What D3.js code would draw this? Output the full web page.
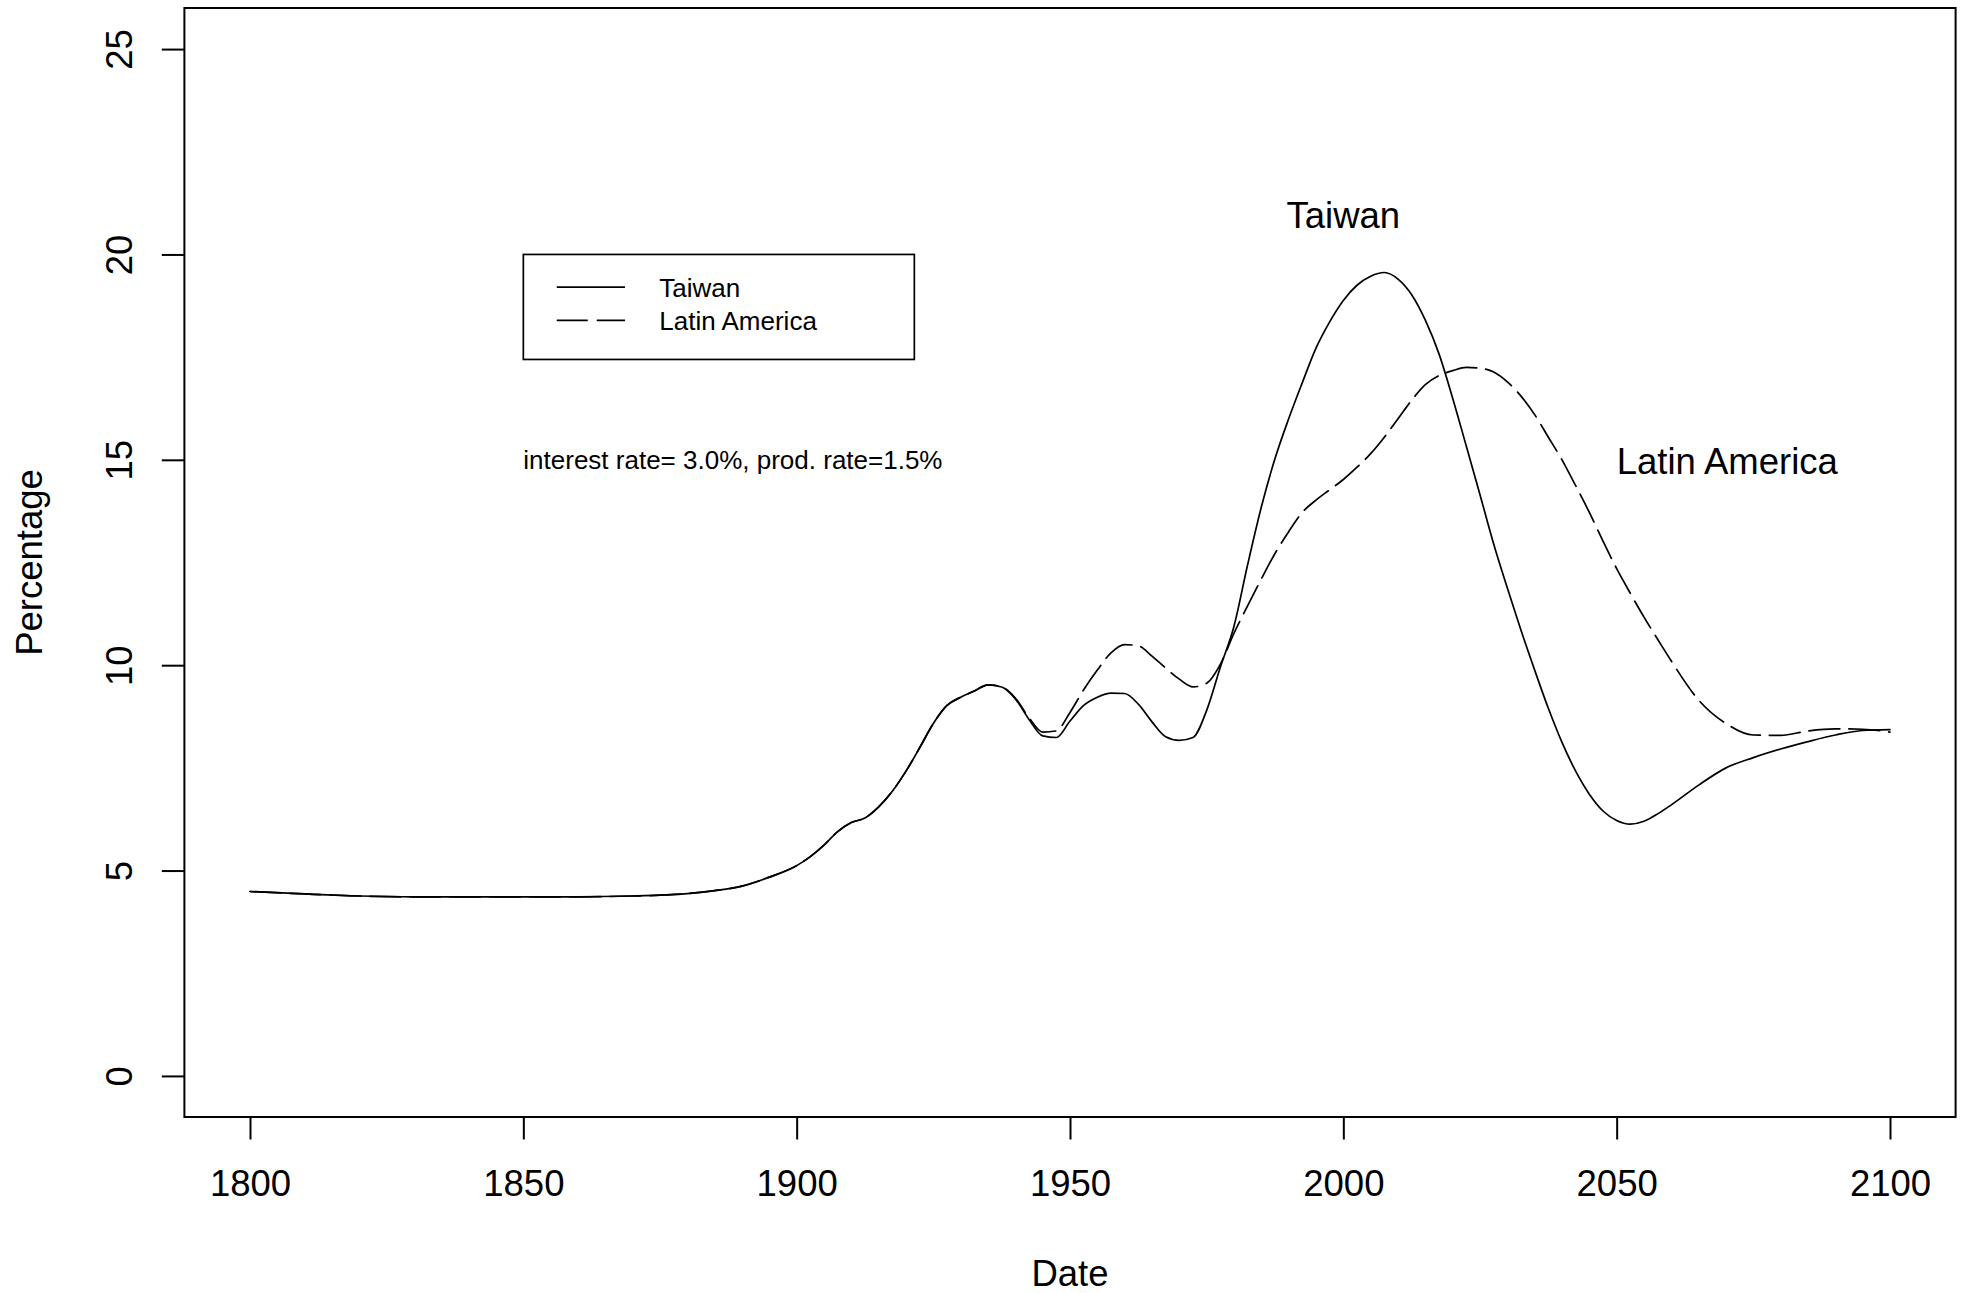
<!DOCTYPE html>
<html>
<head>
<meta charset="utf-8">
<script src="https://cdn.jsdelivr.net/npm/d3@7"></script>
<style>
  html, body { margin: 0; padding: 0; background: #fff; }
  svg { display: block; }
  text { font-family: "Liberation Sans", Arial, Helvetica, sans-serif; fill: #000; }
</style>
</head>
<body>
<svg id="chart" width="1967" height="1293"></svg>
<script>
// Years at which both series are sampled
const years = [
  1800, 1810, 1820, 1830, 1840, 1850, 1860, 1870, 1875, 1880, 1885, 1890, 1895,
  1900, 1902.5, 1905, 1907.5, 1910, 1912.5, 1915, 1917.5, 1920, 1922.5, 1925, 1927.5,
  1930, 1932.5, 1935, 1937.5, 1940, 1942.5, 1945, 1947.5, 1950, 1952.5, 1955, 1957.5,
  1960, 1962.5, 1965, 1967.5, 1970, 1972.5, 1975, 1977.5, 1980, 1982.5, 1985, 1987.5,
  1990, 1992.5, 1995, 1997.5, 2000, 2002.5, 2005, 2007.5, 2010, 2012.5, 2015, 2017.5,
  2020, 2022.5, 2025, 2027.5, 2030, 2032.5, 2035, 2037.5, 2040, 2042.5, 2045, 2047.5,
  2050, 2052.5, 2055, 2057.5, 2060,
  2065, 2070, 2075, 2080, 2085, 2090, 2095, 2100
];

// Percentage, Taiwan
const taiwan = [
  4.49, 4.43, 4.38, 4.36, 4.36, 4.36, 4.36, 4.38, 4.40, 4.44, 4.51, 4.62, 4.84,
  5.12, 5.34, 5.62, 5.95, 6.17, 6.28, 6.55, 6.93, 7.42, 7.99, 8.58, 9.02,
  9.22, 9.37, 9.52, 9.47, 9.18, 8.68, 8.28, 8.24, 8.64, 9.02, 9.22, 9.32,
  9.31, 9.05, 8.62, 8.26, 8.17, 8.24, 8.90, 9.95, 10.95, 12.45, 13.85, 15.03,
  16.00, 16.88, 17.72, 18.36, 18.88, 19.25, 19.47, 19.56, 19.40, 19.02, 18.40, 17.58,
  16.50, 15.33, 14.15, 12.95, 11.88, 10.85, 9.88, 8.95, 8.12, 7.42, 6.86, 6.45,
  6.22, 6.13, 6.20, 6.38, 6.60,
  7.08, 7.50, 7.75, 7.96, 8.14, 8.30, 8.41, 8.43
];

// Percentage, Latin America
const latinAmerica = [
  4.49, 4.43, 4.38, 4.36, 4.36, 4.36, 4.36, 4.38, 4.40, 4.44, 4.51, 4.62, 4.84,
  5.12, 5.34, 5.62, 5.95, 6.17, 6.28, 6.55, 6.93, 7.42, 7.99, 8.58, 9.02,
  9.22, 9.37, 9.52, 9.47, 9.20, 8.72, 8.37, 8.40, 8.85, 9.40, 9.88, 10.30,
  10.50, 10.47, 10.22, 9.93, 9.66, 9.47, 9.56, 10.02, 10.78, 11.45, 12.10, 12.72,
  13.25, 13.72, 14.02, 14.27, 14.52, 14.82, 15.15, 15.55, 16.00, 16.45, 16.83, 17.05,
  17.17, 17.25, 17.23, 17.14, 16.90, 16.55, 16.10, 15.55, 15.00, 14.37, 13.72, 13.02,
  12.35, 11.75, 11.17, 10.63, 10.10,
  9.15, 8.58, 8.30, 8.29, 8.40, 8.45, 8.44, 8.37
];

const xTicks = [1800, 1850, 1900, 1950, 2000, 2050, 2100];
const yTicks = [0, 5, 10, 15, 20, 25];
const seriesNames = ["Taiwan", "Latin America"];
const noteText = "interest rate= 3.0%, prod. rate=1.5%";
const xTitle = "Date";
const yTitle = "Percentage";

// ---- layout ----
const plot = { left: 184.4, right: 1955.6, top: 8, bottom: 1117 };
const bigFont = 36.5, smallFont = 26;

const x = d3.scaleLinear().domain([1788, 2112]).range([plot.left, plot.right]);
const y = d3.scaleLinear().domain([-1, 26]).range([plot.bottom, plot.top]);

const svg = d3.select("#chart");

// frame around the plotting region
svg.append("rect")
  .attr("x", plot.left).attr("y", plot.top)
  .attr("width", plot.right - plot.left).attr("height", plot.bottom - plot.top)
  .attr("fill", "none").attr("stroke", "#000").attr("stroke-width", 2);

// x axis
const xAxis = svg.append("g")
  .attr("transform", `translate(0,${plot.bottom})`)
  .call(d3.axisBottom(x).tickValues(xTicks).tickFormat(d3.format("d"))
    .tickSize(22.5).tickPadding(31));
xAxis.select(".domain").remove();
xAxis.selectAll(".tick line").attr("stroke", "#000").attr("stroke-width", 2);
xAxis.selectAll(".tick text")
  .style("font-size", bigFont + "px")
  .style("font-family", '"Liberation Sans", Arial, sans-serif')
  .attr("fill", "#000");

// y axis, labels rotated as in base graphics
const yAxis = svg.append("g")
  .attr("transform", `translate(${plot.left},0)`)
  .call(d3.axisLeft(y).tickValues(yTicks).tickFormat(d3.format("d")).tickSize(22.6));
yAxis.select(".domain").remove();
yAxis.selectAll(".tick line").attr("stroke", "#000").attr("stroke-width", 2);
yAxis.selectAll(".tick text")
  .attr("x", null).attr("dy", null).attr("y", null)
  .attr("text-anchor", "middle")
  .attr("transform", `translate(${131.7 - plot.left},0) rotate(-90)`)
  .style("font-size", bigFont + "px")
  .style("font-family", '"Liberation Sans", Arial, sans-serif')
  .attr("fill", "#000");

// axis titles
svg.append("text")
  .attr("x", (plot.left + plot.right) / 2).attr("y", 1286)
  .attr("text-anchor", "middle")
  .style("font-size", bigFont + "px")
  .text(xTitle);

svg.append("text")
  .attr("transform", `translate(42,${(plot.top + plot.bottom) / 2}) rotate(-90)`)
  .attr("text-anchor", "middle")
  .style("font-size", bigFont + "px")
  .text(yTitle);

// series lines
const series = [
  { name: seriesNames[0], values: taiwan, dash: null },
  { name: seriesNames[1], values: latinAmerica, dash: "31,9" }
];

const line = d3.line()
  .x(d => x(d[0]))
  .y(d => y(d[1]))
  .curve(d3.curveMonotoneX);

series.forEach(s => {
  svg.append("path")
    .datum(years.map((yr, i) => [yr, s.values[i]]))
    .attr("d", line)
    .attr("fill", "none")
    .attr("stroke", "#000")
    .attr("stroke-width", 1.7)
    .attr("stroke-linejoin", "round")
    .attr("stroke-linecap", "round")
    .attr("stroke-dasharray", s.dash);
});

// legend box anchored at (1850, 20)
const lg = svg.append("g").attr("transform", `translate(${x(1850)},${y(20)})`);
lg.append("rect")
  .attr("x", 0).attr("y", 0).attr("width", 391).attr("height", 105)
  .attr("fill", "#fff").attr("stroke", "#000").attr("stroke-width", 1.7);
series.forEach((s, i) => {
  const rowY = 32.6 + i * 33.4;
  lg.append("line")
    .attr("x1", 33.4).attr("x2", 101.7)
    .attr("y1", rowY).attr("y2", rowY)
    .attr("stroke", "#000").attr("stroke-width", 1.7)
    .attr("stroke-dasharray", s.dash);
  lg.append("text")
    .attr("x", 136).attr("y", rowY + 9.5)
    .style("font-size", smallFont + "px")
    .text(s.name);
});

// annotation with the model parameters
svg.append("text")
  .attr("x", x(1850)).attr("y", y(15))
  .attr("dy", "0.36em")
  .style("font-size", smallFont + "px")
  .text(noteText);

// direct labels on the curves
svg.append("text")
  .attr("x", x(2000)).attr("y", y(21))
  .attr("dy", "0.4em")
  .attr("text-anchor", "middle")
  .style("font-size", bigFont + "px")
  .text(seriesNames[0]);

svg.append("text")
  .attr("x", x(2050)).attr("y", y(15))
  .attr("dy", "0.4em")
  .attr("text-anchor", "start")
  .style("font-size", bigFont + "px")
  .text(seriesNames[1]);
</script>
</body>
</html>
